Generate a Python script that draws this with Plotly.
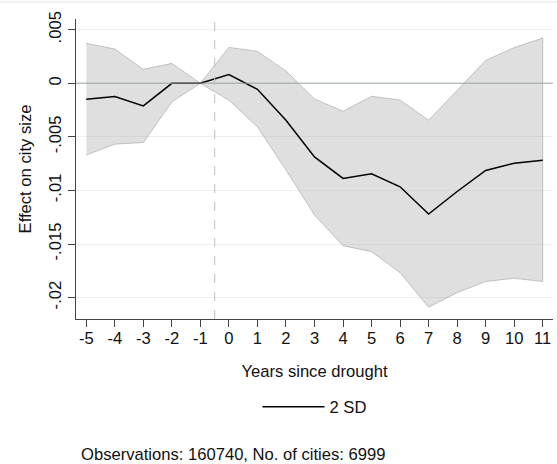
import plotly.graph_objects as go

# Event-study estimates: effect of drought on city size, with 95% band
years = [-5, -4, -3, -2, -1, 0, 1, 2, 3, 4, 5, 6, 7, 8, 9, 10, 11]
year_labels = ["-5", "-4", "-3", "-2", "-1", "0", "1", "2", "3", "4", "5",
               "6", "7", "8", "9", "10", "11"]
coef = [-0.0015, -0.00124, -0.00211, 0.0, 0.0, 0.00081, -0.00056, -0.00345,
        -0.00687, -0.00888, -0.00845, -0.00966, -0.0122, -0.0101, -0.00814,
        -0.00746, -0.00718]
upper = [0.00373, 0.0032, 0.0013, 0.00186, 0.0, 0.00335, 0.00298, 0.00115,
         -0.00146, -0.00261, -0.00121, -0.00156, -0.00345, -0.00065, 0.00214,
         0.00333, 0.00422]
lower = [-0.0067, -0.00568, -0.00553, -0.00174, 0.0, -0.00158, -0.00407,
         -0.0081, -0.0123, -0.01516, -0.01572, -0.01768, -0.0209, -0.01954,
         -0.0185, -0.0182, -0.0185]

ytick_vals = [0.005, 0, -0.005, -0.01, -0.015, -0.02]
ytick_text = [".005", "0", "-.005", "-.01", "-.015", "-.02"]
note = "Observations: 160740, No. of cities: 6999"

FONT = "Liberation Sans, Arial, Helvetica, sans-serif"
FS = 16.6
band_fill = "rgba(160,160,160,0.34)"
band_edge = "rgba(150,150,150,0.5)"

fig = go.Figure()

# Confidence band: upper edge forward, lower edge backward
fig.add_trace(go.Scatter(
    x=years + years[::-1],
    y=upper + lower[::-1],
    fill="toself",
    fillcolor=band_fill,
    line=dict(color=band_edge, width=1),
    mode="lines",
    hoverinfo="skip",
    showlegend=False,
))

fig.add_trace(go.Scatter(
    x=years, y=coef,
    mode="lines",
    line=dict(color="black", width=1.5),
    name="2 SD",
))

# Zero reference and the drought onset marker
fig.add_shape(type="line", xref="paper", x0=0, x1=1, yref="y", y0=0, y1=0,
              line=dict(color="rgba(150,160,160,0.6)", width=1.6), layer="above")
fig.add_shape(type="line", xref="x", x0=-0.5, x1=-0.5, yref="paper", y0=0, y1=1,
              line=dict(color="rgba(190,190,190,0.8)", width=1.2, dash="dash"),
              layer="above")

# Thin rule along the top of the graph region
plot_l, plot_r, plot_t, plot_b = 76, 553, 18.6, 319.3
pw, ph = plot_r - plot_l, plot_b - plot_t
fig.add_shape(type="line", xref="paper", yref="paper",
              x0=-plot_l / pw, x1=(557 - plot_l) / pw,
              y0=1 + (plot_t - 1.5) / ph, y1=1 + (plot_t - 1.5) / ph,
              line=dict(color="#e6eaea", width=1.2))

fig.add_annotation(
    text=note, xref="paper", yref="paper",
    x=(79 - plot_l) / pw, y=(plot_b - 455) / ph,
    xanchor="left", yanchor="middle", showarrow=False,
    font=dict(family=FONT, size=FS, color="#111"),
)

fig.update_layout(
    width=557, height=464,
    margin=dict(l=plot_l, r=557 - plot_r, t=plot_t, b=464 - plot_b),
    paper_bgcolor="white", plot_bgcolor="white",
    font=dict(family=FONT, size=FS, color="#111"),
    showlegend=True,
    legend=dict(
        orientation="h", x=0.5, xanchor="center",
        y=(plot_b - 407.5) / ph, yanchor="middle",
        itemwidth=62, font=dict(size=FS),
        bgcolor="rgba(0,0,0,0)",
    ),
    xaxis=dict(
        range=[-5.36, 11.36],
        tickmode="array", tickvals=years, ticktext=year_labels,
        ticks="outside", ticklen=7, tickcolor="#444", tickwidth=1,
        ticklabelstandoff=-3,
        showline=True, linecolor="#444", linewidth=1.2,
        showgrid=False, zeroline=False,
        title=dict(text="Years since drought", standoff=18,
                   font=dict(size=FS)),
        tickfont=dict(size=FS),
    ),
    yaxis=dict(
        range=[-0.022, 0.006],
        tickmode="array", tickvals=ytick_vals, ticktext=ytick_text,
        tickangle=-90,
        ticks="outside", ticklen=7, tickcolor="#444", tickwidth=1,
        showline=True, linecolor="#444", linewidth=1.2,
        showgrid=True, gridcolor="#eaf1f3", gridwidth=1,
        zeroline=False,
        title=dict(text="Effect on city size", standoff=10,
                   font=dict(size=FS)),
        tickfont=dict(size=FS),
    ),
)

fig.write_html("out.html")
